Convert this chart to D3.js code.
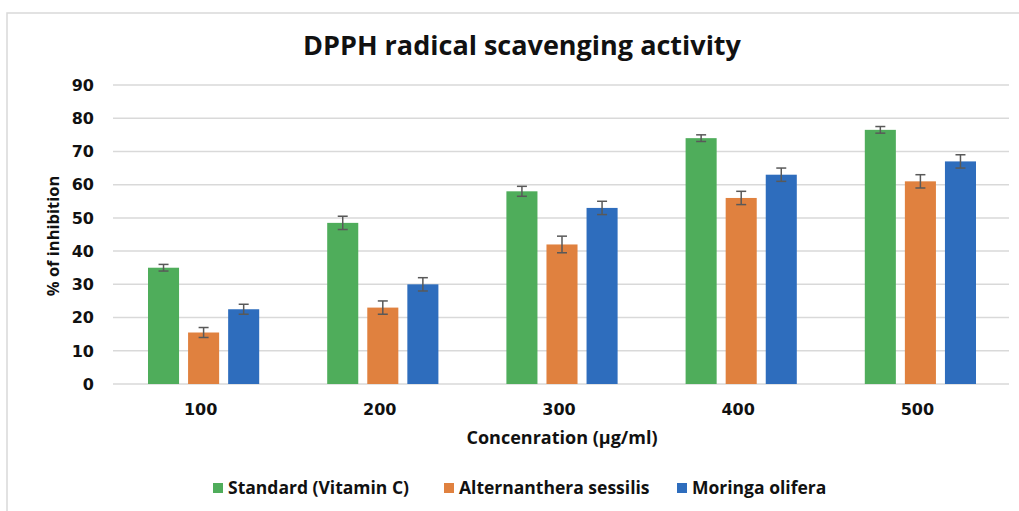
<!DOCTYPE html>
<html lang="en">
<head>
<meta charset="UTF-8">
<title>DPPH radical scavenging activity</title>
<style>
  body { margin: 0; background: #fff; }
  text { font-family: "Open Sans", sans-serif; }
</style>
</head>
<body>
<svg id="chart" width="1019" height="511"></svg>
<script src="https://d3js.org/d3.v7.min.js"></script>
<script>
// data
const concentrations = ["100", "200", "300", "400", "500"];
const seriesNames = ["Standard (Vitamin C)", "Alternanthera sessilis", "Moringa olifera"];
const standardValues = [35, 48.5, 58, 74, 76.5];
const alternantheraValues = [15.5, 23, 42, 56, 61];
const moringaValues = [22.5, 30, 53, 63, 67];
const standardErrors = [1, 2, 1.5, 1, 1];
const alternantheraErrors = [1.5, 2, 2.5, 2, 2];
const moringaErrors = [1.5, 2, 2, 2, 2];
const yTicks = [0, 10, 20, 30, 40, 50, 60, 70, 80, 90];

const colors = ["#4fad5b", "#e0813f", "#2e6dbd"];

const svg = d3.select("#chart");

// chart frame (only top and left edges fall inside the picture)
svg.append("rect")
    .attr("x", 7).attr("y", 13)
    .attr("width", 1100).attr("height", 600)
    .attr("fill", "none")
    .attr("stroke", "#d9d9d9")
    .attr("stroke-width", 1.5);

const plotLeft = 113, plotRight = 1009, plotTop = 85, plotBottom = 384;

const y = d3.scaleLinear().domain([0, 90]).range([plotBottom, plotTop]);
const x0 = d3.scaleBand().domain(concentrations).range([plotLeft, plotRight]).padding(0);
const inner = x0.bandwidth();
const x1 = d3.scaleBand().domain(seriesNames)
    .range([35, inner - 33])
    .paddingInner(0.225)
    .paddingOuter(0);

// gridlines
svg.append("g")
    .selectAll("line")
    .data(yTicks)
    .join("line")
    .attr("x1", plotLeft).attr("x2", plotRight)
    .attr("y1", d => y(d)).attr("y2", d => y(d))
    .attr("stroke", "#d9d9d9")
    .attr("stroke-width", 1.5);

// y tick labels
svg.append("g")
    .selectAll("text")
    .data(yTicks)
    .join("text")
    .attr("x", 94)
    .attr("y", d => y(d))
    .attr("dy", "0.36em")
    .attr("text-anchor", "end")
    .style("font-family", "'DejaVu Sans', sans-serif")
    .style("font-size", "16px")
    .style("font-weight", "bold")
    .attr("fill", "#111")
    .text(d => d);

// x tick labels
svg.append("g")
    .selectAll("text")
    .data(concentrations)
    .join("text")
    .attr("x", d => x0(d) + inner / 2 - 2)
    .attr("y", 415)
    .attr("text-anchor", "middle")
    .style("font-family", "'DejaVu Sans', sans-serif")
    .style("font-size", "16px")
    .style("font-weight", "bold")
    .attr("fill", "#111")
    .text(d => d);

const values = [standardValues, alternantheraValues, moringaValues];
const errors = [standardErrors, alternantheraErrors, moringaErrors];

const rows = [];
seriesNames.forEach((s, si) => {
    concentrations.forEach((c, ci) => {
        rows.push({ series: s, si: si, cat: c, value: values[si][ci], err: errors[si][ci] });
    });
});

// bars
svg.append("g")
    .selectAll("rect")
    .data(rows)
    .join("rect")
    .attr("x", d => x0(d.cat) + x1(d.series))
    .attr("y", d => y(d.value))
    .attr("width", x1.bandwidth())
    .attr("height", d => plotBottom - y(d.value))
    .attr("fill", d => colors[d.si]);

// error bars
const eb = svg.append("g")
    .attr("stroke", "#595959")
    .attr("stroke-width", 1.5)
    .attr("fill", "none");

rows.forEach(d => {
    const cx = x0(d.cat) + x1(d.series) + x1.bandwidth() / 2;
    const y1 = y(d.value + d.err), y2 = y(d.value - d.err);
    eb.append("line").attr("x1", cx).attr("x2", cx).attr("y1", y1).attr("y2", y2);
    eb.append("line").attr("x1", cx - 5).attr("x2", cx + 5).attr("y1", y1).attr("y2", y1);
    eb.append("line").attr("x1", cx - 5).attr("x2", cx + 5).attr("y1", y2).attr("y2", y2);
});

// title
svg.append("text")
    .attr("x", 522).attr("y", 55)
    .attr("text-anchor", "middle")
    .style("font-size", "27px")
    .style("font-weight", "bold")
    .attr("fill", "#111")
    .text("DPPH radical scavenging activity");

// axis titles
svg.append("text")
    .attr("transform", "translate(59,236) rotate(-90)")
    .attr("text-anchor", "middle")
    .style("font-size", "16.5px")
    .style("font-weight", "bold")
    .attr("fill", "#111")
    .text("% of inhibition");

svg.append("text")
    .attr("x", 562).attr("y", 444)
    .attr("text-anchor", "middle")
    .style("font-size", "18px")
    .style("font-weight", "bold")
    .attr("fill", "#111")
    .text("Concenration (µg/ml)");

// legend
const legendX = [213, 444, 677];
const legend = svg.append("g")
    .selectAll("g")
    .data(seriesNames)
    .join("g")
    .attr("transform", (d, i) => `translate(${legendX[i]},488)`);

legend.append("rect")
    .attr("x", 0).attr("y", -5)
    .attr("width", 10).attr("height", 10)
    .attr("fill", (d, i) => colors[i]);

legend.append("text")
    .attr("x", 15)
    .attr("dy", "0.35em")
    .style("font-size", "17.5px")
    .style("font-weight", "bold")
    .attr("fill", "#111")
    .text(d => d);
</script>
</body>
</html>
